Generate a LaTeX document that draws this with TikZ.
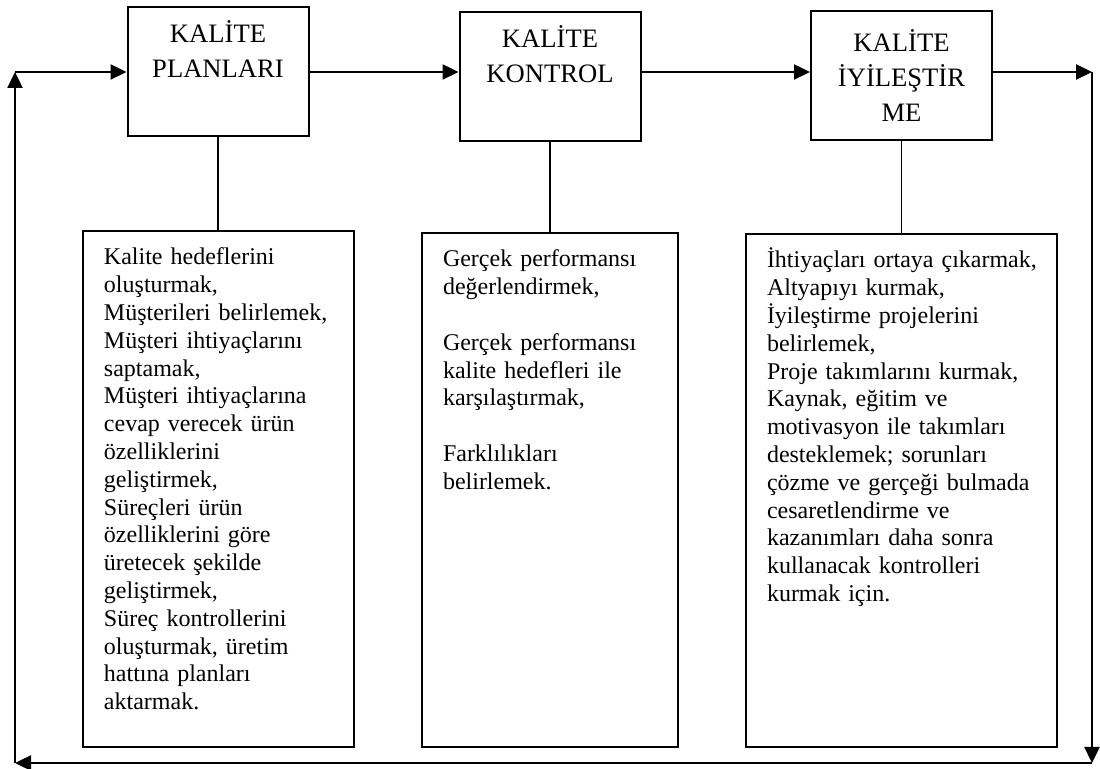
\documentclass[tikz,border=0pt]{standalone}
\usepackage{fontspec}
\setmainfont{Liberation Serif}
\usetikzlibrary{arrows.meta}

\begin{document}
\begin{tikzpicture}[>={Triangle[length=8pt,width=7.5pt]}, x=.5pt, y=-.5pt,
    baslik/.style={draw, line width=1pt, minimum width=90.5pt, minimum height=64.5pt, align=center, font=\fontsize{13.3}{17.5}\selectfont},
    liste/.style={draw, line width=1pt, anchor=north west, align=left, inner xsep=10.5pt, inner ysep=0pt, text height=17pt, font=\fontsize{12}{13.9}\selectfont},
    ok/.style={->, line width=1.2pt}]
    \useasboundingbox (0,0) rectangle (1100,769);

    \node[baslik] (plan) at (218,71.5) {KALİTE\\PLANLARI\\\strut};
    \node[baslik] (kontrol) at (550,76.5) {KALİTE\\KONTROL\\\strut};
    \node[baslik] (iyiles) at (901.5,76) {KALİTE\\İYİLEŞTİR\\ME};

    \node[liste, text width=114.5pt, text depth=241pt] (planlist) at (82,230) {Kalite hedeflerini\\oluşturmak,\\Müşterileri belirlemek,\\Müşteri ihtiyaçlarını\\saptamak,\\Müşteri ihtiyaçlarına\\cevap verecek ürün\\özelliklerini\\geliştirmek,\\Süreçleri ürün\\özelliklerini göre\\üretecek şekilde\\geliştirmek,\\Süreç kontrollerini\\oluşturmak, üretim\\hattına planları\\aktarmak.};
    \node[liste, text width=107pt, text depth=240pt] (kontrollist) at (421,232) {Gerçek performansı\\değerlendirmek,\\[13.9pt]Gerçek performansı\\kalite hedefleri ile\\karşılaştırmak,\\[13.9pt]Farklılıkları\\belirlemek.};
    \node[liste, text width=134.5pt, text depth=239.5pt] (iyileslist) at (745,233) {\mbox{İhtiyaçları ortaya çıkarmak,}\\Altyapıyı kurmak,\\İyileştirme projelerini\\belirlemek,\\Proje takımlarını kurmak,\\Kaynak, eğitim ve\\motivasyon ile takımları\\desteklemek; sorunları\\çözme ve gerçeği bulmada\\cesaretlendirme ve\\kazanımları daha sonra\\kullanacak kontrolleri\\kurmak için.};

    % geri besleme dongusu
    \coordinate (tl) at (15,72);
    \coordinate (tr) at (1092,72);
    \coordinate (br) at (1092,763);
    \coordinate (bl) at (15,763);

    \draw[ok] (tl) -- (tl -| plan.west);
    \draw[ok] (plan.east |- tl) -- (kontrol.west |- tl);
    \draw[ok] (kontrol.east |- tl) -- (iyiles.west |- tl);
    \draw[ok] (iyiles.east |- tl) -- (tr);
    \draw[ok] (tr) -- (br);
    \draw[ok] (br) -- (bl);
    \draw[ok] (bl) -- (tl);

\foreach \a/\b in {plan/planlist, kontrol/kontrollist, iyiles/iyileslist}
{
    \draw[line width=.75pt] (\a.south) -- (\a.south |- \b.north);
}

\end{tikzpicture}
\end{document}
